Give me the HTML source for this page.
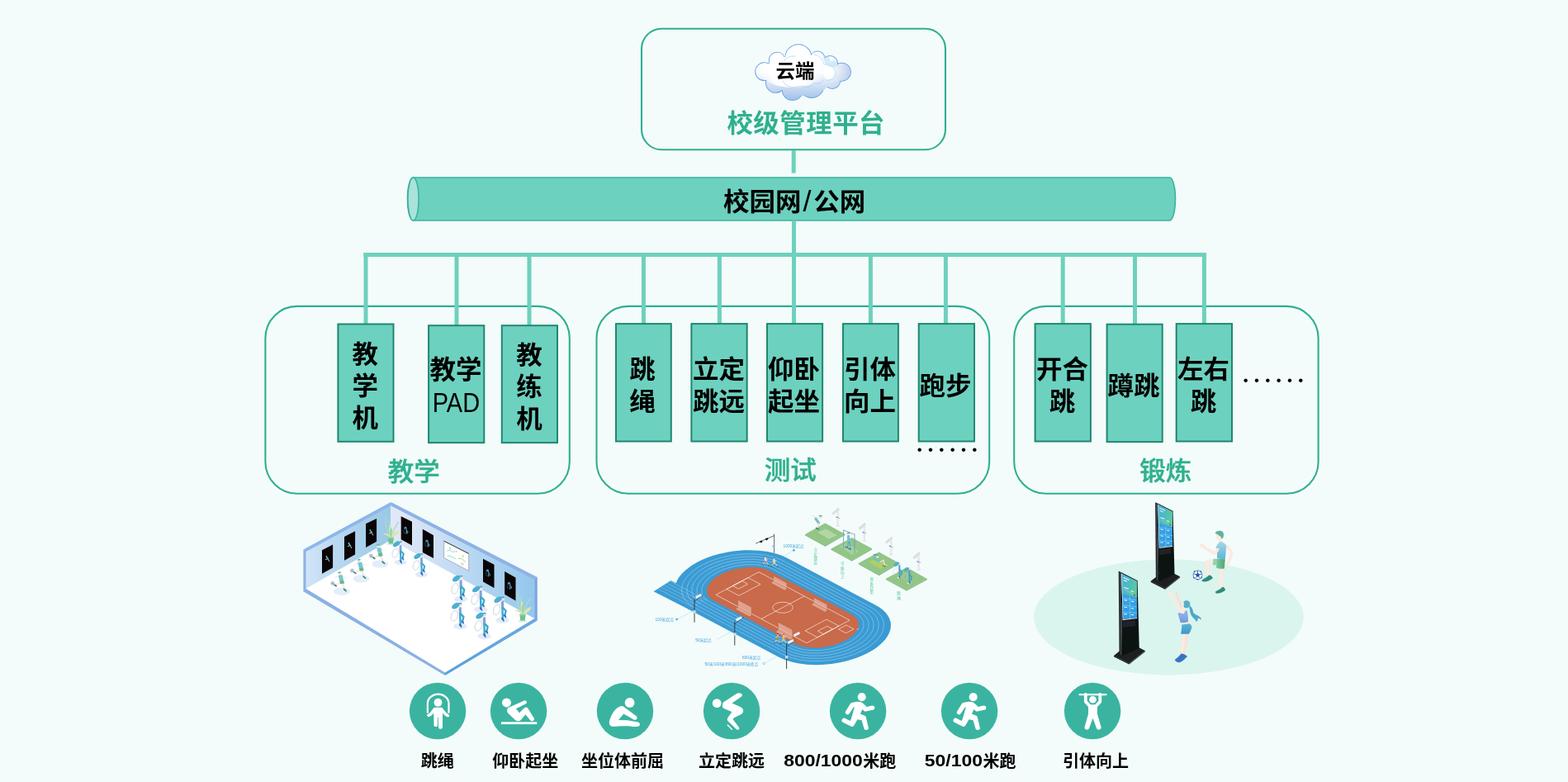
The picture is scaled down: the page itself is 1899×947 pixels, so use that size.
<!DOCTYPE html>
<html lang="zh-CN"><head><meta charset="utf-8"><title>校级管理平台</title>
<style>
html,body{margin:0;padding:0;background:#f3fcfa;}
body{width:1899px;height:947px;overflow:hidden;position:relative;font-family:"Liberation Sans","Noto Sans CJK SC",sans-serif;}
svg{position:absolute;left:0;top:0;display:block;will-change:transform}
svg text{font-family:"Liberation Sans","Noto Sans CJK SC",sans-serif;}
svg text.cjk{font-family:"Noto Sans CJK SC","Liberation Sans",sans-serif;}
</style></head><body>
<svg width="1899" height="947" viewBox="0 0 1899 947">
<rect x="777" y="34.7" width="368" height="146.6" rx="24.5" fill="none" stroke="#2fae92" stroke-width="2.1"/>
<path d="M500.5 215 H1416.5 A7 26 0 0 1 1416.5 267 H500.5 A7 26 0 0 1 500.5 215 Z" fill="#6dd1bf" stroke="#3bb39e" stroke-width="1.6"/>
<ellipse cx="500.5" cy="241" rx="6.6" ry="26" fill="#a9e3d9" stroke="#3bb39e" stroke-width="1.6"/>
<rect x="321.4" y="370.9" width="368.4" height="226.8" rx="38.5" fill="none" stroke="#2fae92" stroke-width="2.1"/>
<rect x="722.5" y="370.9" width="475.7" height="226.8" rx="38.5" fill="none" stroke="#2fae92" stroke-width="2.1"/>
<rect x="1228.2" y="370.9" width="368.4" height="226.8" rx="38.5" fill="none" stroke="#2fae92" stroke-width="2.1"/>
<g id="connectors">
<rect x="958.7" y="182" width="5" height="27.6" fill="#6fd0be"/>
<rect x="959.0" y="267" width="5" height="125.0" fill="#6fd0be"/>
<rect x="440.4" y="306" width="1020.2" height="5" fill="#6fd0be"/>
<rect x="440.5" y="306" width="5" height="86.0" fill="#6fd0be"/>
<rect x="550.5" y="306" width="5" height="88.0" fill="#6fd0be"/>
<rect x="638.5" y="306" width="5" height="88.0" fill="#6fd0be"/>
<rect x="777.0" y="306" width="5" height="86.0" fill="#6fd0be"/>
<rect x="868.9" y="306" width="5" height="86.0" fill="#6fd0be"/>
<rect x="1051.9" y="306" width="5" height="86.0" fill="#6fd0be"/>
<rect x="1142.9" y="306" width="5" height="86.0" fill="#6fd0be"/>
<rect x="1284.7" y="306" width="5" height="86.0" fill="#6fd0be"/>
<rect x="1372.0" y="306" width="5" height="86.5" fill="#6fd0be"/>
<rect x="1455.9" y="306" width="5" height="86.0" fill="#6fd0be"/>
</g>
<rect x="409.4" y="392.5" width="67.1" height="142.3" fill="#6dd1bf" stroke="#1f8870" stroke-width="2"/>
<rect x="519.1" y="394.2" width="67.2" height="141.9" fill="#6dd1bf" stroke="#1f8870" stroke-width="2"/>
<rect x="607.8" y="394.2" width="67.2" height="141.9" fill="#6dd1bf" stroke="#1f8870" stroke-width="2"/>
<rect x="746.0" y="392.1" width="66.8" height="142.4" fill="#6dd1bf" stroke="#1f8870" stroke-width="2"/>
<rect x="837.4" y="392.1" width="67.3" height="142.4" fill="#6dd1bf" stroke="#1f8870" stroke-width="2"/>
<rect x="929.0" y="392.1" width="67.1" height="142.4" fill="#6dd1bf" stroke="#1f8870" stroke-width="2"/>
<rect x="1021.0" y="392.1" width="66.9" height="142.4" fill="#6dd1bf" stroke="#1f8870" stroke-width="2"/>
<rect x="1112.7" y="392.1" width="67.3" height="142.4" fill="#6dd1bf" stroke="#1f8870" stroke-width="2"/>
<rect x="1253.6" y="392.1" width="67.3" height="142.4" fill="#6dd1bf" stroke="#1f8870" stroke-width="2"/>
<rect x="1340.6" y="392.7" width="67.1" height="142.4" fill="#6dd1bf" stroke="#1f8870" stroke-width="2"/>
<rect x="1424.7" y="392.1" width="67.3" height="142.4" fill="#6dd1bf" stroke="#1f8870" stroke-width="2"/>
<defs><linearGradient id="cg" gradientUnits="userSpaceOnUse" x1="0" y1="53" x2="0" y2="122"><stop offset="0" stop-color="#ffffff"/><stop offset="0.5" stop-color="#fbfdff"/><stop offset="0.72" stop-color="#d3e2f5"/><stop offset="1" stop-color="#9dbfe8"/></linearGradient><radialGradient id="cg2" gradientUnits="userSpaceOnUse" cx="958" cy="84" r="40"><stop offset="0" stop-color="#fff"/><stop offset="0.6" stop-color="#fff" stop-opacity="0.95"/><stop offset="1" stop-color="#fff" stop-opacity="0"/></radialGradient><linearGradient id="cg3" gradientUnits="userSpaceOnUse" x1="1006" y1="0" x2="1031" y2="0"><stop offset="0" stop-color="#c3d4ee" stop-opacity="0"/><stop offset="1" stop-color="#b4c9ea" stop-opacity="0.95"/></linearGradient><clipPath id="cc"><ellipse cx="972" cy="88" rx="47" ry="21"/><ellipse cx="972" cy="92" rx="36" ry="24"/><circle cx="925.6" cy="86.7" r="10.4"/><circle cx="941" cy="73" r="9.2"/><circle cx="966.9" cy="69.6" r="15.4"/><circle cx="990" cy="71.4" r="8.8"/><circle cx="1005.2" cy="76.8" r="8.8"/><circle cx="1019.4" cy="87.2" r="10.5"/><circle cx="1008" cy="97.6" r="9.3"/><circle cx="983.1" cy="103.8" r="14.2"/><circle cx="959.8" cy="109" r="12"/><circle cx="939.4" cy="100.4" r="11.4"/><circle cx="965" cy="88" r="18"/><circle cx="990" cy="88" r="16"/></clipPath></defs>
<g id="cloud">
<circle cx="925.6" cy="86.7" r="10.4" fill="#ffffff" stroke="#6fa4e2" stroke-width="2"/>
<circle cx="941" cy="73" r="9.2" fill="#ffffff" stroke="#6fa4e2" stroke-width="2"/>
<circle cx="966.9" cy="69.6" r="15.4" fill="#ffffff" stroke="#6fa4e2" stroke-width="2"/>
<circle cx="990" cy="71.4" r="8.8" fill="#ffffff" stroke="#6fa4e2" stroke-width="2"/>
<circle cx="1005.2" cy="76.8" r="8.8" fill="#ffffff" stroke="#6fa4e2" stroke-width="2"/>
<circle cx="1019.4" cy="87.2" r="10.5" fill="#ffffff" stroke="#6fa4e2" stroke-width="2"/>
<circle cx="1008" cy="97.6" r="9.3" fill="#ffffff" stroke="#6fa4e2" stroke-width="2"/>
<circle cx="983.1" cy="103.8" r="14.2" fill="#ffffff" stroke="#6fa4e2" stroke-width="2"/>
<circle cx="959.8" cy="109" r="12" fill="#ffffff" stroke="#6fa4e2" stroke-width="2"/>
<circle cx="939.4" cy="100.4" r="11.4" fill="#ffffff" stroke="#6fa4e2" stroke-width="2"/>
<g clip-path="url(#cc)">
<rect x="910" y="50" width="125" height="76" fill="url(#cg)"/>
<ellipse cx="1014" cy="88" rx="20" ry="22" fill="url(#cg3)"/>
<ellipse cx="960" cy="82" rx="42" ry="24" fill="url(#cg2)"/>
<ellipse cx="1004" cy="88" rx="7" ry="8" fill="#ffffff" opacity="0.9"/>
<path d="M996 64 Q1004 66 1006 74 Q1014 72 1016 80 L1008 82 Q1000 80 998 74 Z" fill="#c5e4f4" opacity="0.7"/>
</g>
<path d="M949 75 Q953 67 964 68" fill="none" stroke="#a8dcf0" stroke-width="0.8"/>
<path d="M948 98 Q953 109 972 104 Q980 108 986 100 Q994 104 998 96" fill="none" stroke="#a9c9ec" stroke-width="0.8" opacity="0.8"/>
<path d="M986 66 Q996 68 998 78 Q1010 76 1012 88 Q1012 96 1000 98" fill="none" stroke="#b9dcf2" stroke-width="1" opacity="0.8"/>
</g>
<text transform="translate(963 94.2) scale(1.0 0.96)" font-size="23.5" font-weight="700" fill="#000" text-anchor="middle" >云端</text>
<text transform="translate(976.2 159.6) scale(1.0 0.97)" font-size="31.5" font-weight="700" fill="#2fb08f" text-anchor="middle" letter-spacing="0.45">校级管理平台</text>
<text transform="scale(1 0.96)" font-size="31.5" font-weight="700" fill="#000"><tspan x="876" y="265.83">校园网</tspan><tspan x="972.4" y="267.08" font-size="36" font-weight="400">/</tspan><tspan x="985.2" y="265.83">公网</tspan></text>
<text transform="scale(1 0.96)" font-size="31.5" font-weight="700" fill="#000" text-anchor="middle"><tspan x="442.3" y="458.13">教</tspan><tspan x="442.3" y="498.23">学</tspan><tspan x="442.3" y="538.33">机</tspan></text>
<text font-size="31.5" font-weight="700" fill="#000"><tspan x="552" y="459.2" text-anchor="middle">教学</tspan><tspan x="523.7" y="499.2" font-size="33" font-weight="400" textLength="57.4" lengthAdjust="spacingAndGlyphs">PAD</tspan></text>
<text transform="scale(1 0.96)" font-size="31.5" font-weight="700" fill="#000" text-anchor="middle"><tspan x="641" y="459.17">教</tspan><tspan x="641" y="499.27">练</tspan><tspan x="641" y="539.38">机</tspan></text>
<text transform="scale(1 0.96)" font-size="31.5" font-weight="700" fill="#000" text-anchor="middle"><tspan x="778" y="477.50">跳</tspan><tspan x="778" y="517.60">绳</tspan></text>
<text transform="scale(1 0.96)" font-size="31.5" font-weight="700" fill="#000" text-anchor="middle"><tspan x="870.5" y="477.50">立定</tspan><tspan x="870.5" y="517.60">跳远</tspan></text>
<text transform="scale(1 0.96)" font-size="31.5" font-weight="700" fill="#000" text-anchor="middle"><tspan x="961.5" y="477.50">仰卧</tspan><tspan x="961.5" y="517.60">起坐</tspan></text>
<text transform="scale(1 0.96)" font-size="31.5" font-weight="700" fill="#000" text-anchor="middle"><tspan x="1053.5" y="477.50">引体</tspan><tspan x="1053.5" y="517.60">向上</tspan></text>
<text transform="translate(1145 478) scale(1.0 0.96)" font-size="31.5" font-weight="700" fill="#000" text-anchor="middle" >跑步</text>
<text transform="scale(1 0.96)" font-size="31.5" font-weight="700" fill="#000" text-anchor="middle"><tspan x="1286.5" y="477.50">开合</tspan><tspan x="1286.5" y="517.60">跳</tspan></text>
<text transform="translate(1373 478) scale(1.0 0.96)" font-size="31.5" font-weight="700" fill="#000" text-anchor="middle" >蹲跳</text>
<text transform="scale(1 0.96)" font-size="31.5" font-weight="700" fill="#000" text-anchor="middle"><tspan x="1457.5" y="477.50">左右</tspan><tspan x="1457.5" y="517.60">跳</tspan></text>
<text transform="translate(501.3 582.2) scale(1.0 0.96)" font-size="31.5" font-weight="500" fill="#2fb08f" text-anchor="middle" stroke="#2fb08f" stroke-width="0.45">教学</text>
<text transform="translate(957.3 579.6) scale(1.0 0.96)" font-size="31.5" font-weight="500" fill="#2fb08f" text-anchor="middle" stroke="#2fb08f" stroke-width="0.45">测试</text>
<text transform="translate(1411.8 581.3) scale(1.0 0.96)" font-size="31.5" font-weight="500" fill="#2fb08f" text-anchor="middle" stroke="#2fb08f" stroke-width="0.45">锻炼</text>
<text class="cjk" x="1501.9" y="475.7" font-size="40" font-weight="300" fill="#000">……</text>
<text class="cjk" x="1106.9" y="559.8" font-size="40" font-weight="300" fill="#000">……</text>
<defs><linearGradient id="wl" gradientUnits="userSpaceOnUse" x1="370" y1="0" x2="474" y2="0"><stop offset="0" stop-color="#d2e4f8"/><stop offset="0.35" stop-color="#b9d8f1"/><stop offset="1" stop-color="#98c8e6"/></linearGradient><linearGradient id="wr" gradientUnits="userSpaceOnUse" x1="473" y1="0" x2="648" y2="0"><stop offset="0" stop-color="#e4e8f7"/><stop offset="0.3" stop-color="#cfe0f5"/><stop offset="0.65" stop-color="#b0d4f1"/><stop offset="1" stop-color="#93c7ec"/></linearGradient><linearGradient id="fr" gradientUnits="userSpaceOnUse" x1="539" y1="0" x2="651" y2="0"><stop offset="0" stop-color="#5b9fd8"/><stop offset="1" stop-color="#6fa8e0"/></linearGradient></defs>
<g id="room">
<polygon points="370.5,712.8 473.4,654 647.5,749 539,814.6" fill="#ffffff"/>
<polygon points="370.5,667.4 473.4,611.6 473.4,654 370.5,712.8" fill="url(#wl)"/>
<polygon points="473.4,611.6 647.5,701.4 647.5,749 473.4,654" fill="url(#wr)"/>
<polygon points="367.4,665.6 473.4,608 473.4,612.4 370.6,668" fill="#8eb6ea"/>
<polygon points="473.4,608 650.8,699 647.4,702 473.4,612.4" fill="#8fb2e6"/>
<polygon points="367.4,665.6 370.6,667.6 370.6,713.4 367.4,716.2" fill="#8db2e6"/>
<polygon points="647.3,701.6 650.8,699 650.8,751.6 647.3,749.2" fill="#7ba7e0"/>
<polygon points="367.4,716.2 370.6,712.9 539,814.4 539,818" fill="#8ab0e4"/>
<polygon points="539,818 539,814.4 647.4,749 650.8,751.6" fill="url(#fr)"/>
<polygon points="390,666.2 403.1,659.6 403.1,687.5 390,694.8" fill="#0b0506"/><path d="M395.6 674.4 l1.6 2.4 l1.6 3 M396.9 676.6 l-2.4 1" stroke="#cfe9e6" stroke-width="0.9" fill="none" stroke-linecap="round"/><circle cx="395.4" cy="673.8" r="0.9" fill="#5fc0b0"/><path d="M395.9 675.0 l1.4 2" stroke="#57bfc4" stroke-width="1.5" stroke-linecap="round"/>
<polygon points="417,650 430.1,643.3 430.1,671.6 417,678.8" fill="#0b0506"/><path d="M422.6 658.3 l1.6 2.4 l1.6 3 M423.9 660.5 l-2.4 1" stroke="#cfe9e6" stroke-width="0.9" fill="none" stroke-linecap="round"/><circle cx="422.4" cy="657.7" r="0.9" fill="#5fc0b0"/><path d="M422.9 658.9 l1.4 2" stroke="#57bfc4" stroke-width="1.5" stroke-linecap="round"/>
<polygon points="443.1,634.2 456.1,627.9 456.1,655.8 443.1,663" fill="#0b0506"/><path d="M448.6 642.6 l1.6 2.4 l1.6 3 M450.0 644.8 l-2.4 1" stroke="#cfe9e6" stroke-width="0.9" fill="none" stroke-linecap="round"/><circle cx="448.4" cy="642.0" r="0.9" fill="#5fc0b0"/><path d="M449.0 643.2 l1.4 2" stroke="#57bfc4" stroke-width="1.5" stroke-linecap="round"/>
<g transform="translate(473.4 658.4) scale(1.35)">
<ellipse cx="0" cy="0.4" rx="4" ry="1" fill="#d5ecdf" opacity="0.8"/>
<path d="M-1 -6 C-5 -14 -5 -20 -4.4 -24 M0 -6 C3 -14 5 -17 6.6 -19 M0.4 -6 C0 -14 -1.4 -18 -2 -20" stroke="#a5dbd0" stroke-width="1.5" fill="none" stroke-linecap="round" opacity="0.7"/>
<path d="M0 -5 C-4 -8 -6 -8.6 -7 -8.4 C-5.6 -10.6 -2 -9 0 -6 C-2 -11 -2 -14 -1 -17 C1.4 -14 1.6 -10 0.6 -6 C2.6 -10 5 -11.6 7.4 -11.6 C6.6 -8 3 -6.6 0.6 -5 Z" fill="#dbe9a0"/>
<path d="M0 -5.6 C-1 -10 -0.6 -13 0.2 -15 C1.4 -12 1 -9 0.4 -5.6 Z" fill="#8fd0a6"/>
<path d="M-2.6 -5.6 L2.6 -5.6 L2 0 L-2 0 Z" fill="#71c08e"/>
<path d="M-2.6 -5.6 L2.6 -5.6 L2.5 -4.4 L-2.5 -4.4 Z" fill="#8ed3a6"/>
</g>
<polygon points="485.7,625.3 499,631.7 499,660.6 485.7,653.2" fill="#0b0506"/><path d="M492.0 639.3 l0.6 3.4 l-0.4 3.6 M492.6 642.7 l1.6 1.2 l-0.6 1.6" stroke="#3fa9cf" stroke-width="1" fill="none" stroke-linecap="round"/><ellipse cx="490.8" cy="639.1" rx="1.7" ry="1" transform="rotate(-35 490.8 639.1)" fill="#3fa9cf"/><ellipse cx="490.4" cy="643.3" rx="1.6" ry="2.6" fill="none" stroke="#8a93a8" stroke-width="0.3"/>
<polygon points="511.8,640.8 525,648.2 525,676 511.8,669.1" fill="#0b0506"/><path d="M518.0 655.1 l0.6 3.4 l-0.4 3.6 M518.6 658.5 l1.6 1.2 l-0.6 1.6" stroke="#3fa9cf" stroke-width="1" fill="none" stroke-linecap="round"/><ellipse cx="516.8" cy="654.9" rx="1.7" ry="1" transform="rotate(-35 516.8 654.9)" fill="#3fa9cf"/><ellipse cx="516.4" cy="659.1" rx="1.6" ry="2.6" fill="none" stroke="#8a93a8" stroke-width="0.3"/>
<polygon points="537.7,655.2 567.7,670.4 567.7,691.3 537.7,675.5" fill="#fdfefe" stroke="#6f7a86" stroke-width="0.5"/>
<path d="M537.7 655.2 L567.7 670.4" stroke="#1c1c22" stroke-width="0.8"/>
<path d="M541.5 667.4 l3.4 -1.4 l3 2.4 l3 -0.6 M541.8 673 l4 0.6 l3.4 1.8 l3 1.6" stroke="#7fd0c8" stroke-width="0.8" fill="none"/>
<path d="M555 676.6 l3 -0.4 l3 1.8 l3 2.6 M544 663.6 l2 1" stroke="#7ecfa0" stroke-width="0.8" fill="none"/>
<circle cx="545" cy="663.6" r="1.1" fill="none" stroke="#8ad3b2" stroke-width="0.5"/><circle cx="552.6" cy="668" r="1" fill="#f3a9b4" opacity="0.8"/><circle cx="560.8" cy="673.4" r="1.2" fill="#f6c96a" opacity="0.9"/><circle cx="560" cy="683" r="1.3" fill="none" stroke="#f0a080" stroke-width="0.6"/>
<polygon points="585,676.8 598.5,683.7 598.5,712 585,704.6" fill="#0b0506"/><path d="M591.4 690.9 l0.6 3.4 l-0.4 3.6 M592.0 694.3 l1.6 1.2 l-0.6 1.6" stroke="#3fa9cf" stroke-width="1" fill="none" stroke-linecap="round"/><ellipse cx="590.1" cy="690.7" rx="1.7" ry="1" transform="rotate(-35 590.1 690.7)" fill="#3fa9cf"/><ellipse cx="589.8" cy="694.9" rx="1.6" ry="2.6" fill="none" stroke="#8a93a8" stroke-width="0.3"/>
<polygon points="611.2,692 624.5,699.6 624.5,727.5 611.2,719.8" fill="#0b0506"/><path d="M617.5 706.3 l0.6 3.4 l-0.4 3.6 M618.1 709.7 l1.6 1.2 l-0.6 1.6" stroke="#3fa9cf" stroke-width="1" fill="none" stroke-linecap="round"/><ellipse cx="616.2" cy="706.1" rx="1.7" ry="1" transform="rotate(-35 616.2 706.1)" fill="#3fa9cf"/><ellipse cx="615.9" cy="710.3" rx="1.6" ry="2.6" fill="none" stroke="#8a93a8" stroke-width="0.3"/>
<g transform="translate(633 751.6) scale(1.4)">
<ellipse cx="0" cy="0.4" rx="4" ry="1" fill="#d5ecdf" opacity="0.8"/>
<path d="M-1 -6 C-5 -14 -5 -20 -4.4 -24 M0 -6 C3 -14 5 -17 6.6 -19 M0.4 -6 C0 -14 -1.4 -18 -2 -20" stroke="#a5dbd0" stroke-width="1.5" fill="none" stroke-linecap="round" opacity="0.7"/>
<path d="M0 -5 C-4 -8 -6 -8.6 -7 -8.4 C-5.6 -10.6 -2 -9 0 -6 C-2 -11 -2 -14 -1 -17 C1.4 -14 1.6 -10 0.6 -6 C2.6 -10 5 -11.6 7.4 -11.6 C6.6 -8 3 -6.6 0.6 -5 Z" fill="#dbe9a0"/>
<path d="M0 -5.6 C-1 -10 -0.6 -13 0.2 -15 C1.4 -12 1 -9 0.4 -5.6 Z" fill="#8fd0a6"/>
<path d="M-2.6 -5.6 L2.6 -5.6 L2 0 L-2 0 Z" fill="#71c08e"/>
<path d="M-2.6 -5.6 L2.6 -5.6 L2.5 -4.4 L-2.5 -4.4 Z" fill="#8ed3a6"/>
</g>
<g transform="translate(412.8 716.2) scale(1.04)">
<ellipse cx="1" cy="0" rx="9.5" ry="4.6" fill="#e4eefa"/>
<path d="M1.2 -10 L4.6 -2.4" stroke="#f7dfd6" stroke-width="1.5" stroke-linecap="round"/>
<path d="M0.2 -10.6 L-5.8 -7.4" stroke="#f7dfd6" stroke-width="1.5" stroke-linecap="round"/>
<path d="M3.6 -2.6 L6 -0.6 M-7.4 -7.6 L-5.4 -6.2" stroke="#2f8f70" stroke-width="1.7" stroke-linecap="round"/>
<path d="M-1.6 -12.6 L3 -13.4 L4.2 -9.4 L-0.6 -8.6 Z" fill="#63b88f"/>
<path d="M-3.2 -18.6 L1.8 -19.4 L3.2 -13 L-1.4 -12.4 Z" fill="#74c6d6"/>
<path d="M1.6 -18.6 L5.6 -15.4 M-2.8 -18 L-6.4 -16.6" stroke="#f7dfd6" stroke-width="0.9" stroke-linecap="round"/>
<circle cx="-1.6" cy="-20.8" r="1.7" fill="#f9e1da"/>
<path d="M-3.8 -21.4 Q-2.4 -24 0.6 -22.4 L-0.6 -21.4 Z" fill="#4fb79c"/>
<circle cx="-9.6" cy="-9.4" r="1.7" fill="#fff" stroke="#3b4a78" stroke-width="0.5"/>
<circle cx="-9.6" cy="-9.4" r="0.6" fill="#3b4a78"/>
</g>
<g transform="translate(436.4 700.8) scale(1.04)">
<ellipse cx="1" cy="0" rx="9.5" ry="4.6" fill="#e4eefa"/>
<path d="M1.2 -10 L4.6 -2.4" stroke="#f7dfd6" stroke-width="1.5" stroke-linecap="round"/>
<path d="M0.2 -10.6 L-5.8 -7.4" stroke="#f7dfd6" stroke-width="1.5" stroke-linecap="round"/>
<path d="M3.6 -2.6 L6 -0.6 M-7.4 -7.6 L-5.4 -6.2" stroke="#2f8f70" stroke-width="1.7" stroke-linecap="round"/>
<path d="M-1.6 -12.6 L3 -13.4 L4.2 -9.4 L-0.6 -8.6 Z" fill="#63b88f"/>
<path d="M-3.2 -18.6 L1.8 -19.4 L3.2 -13 L-1.4 -12.4 Z" fill="#74c6d6"/>
<path d="M1.6 -18.6 L5.6 -15.4 M-2.8 -18 L-6.4 -16.6" stroke="#f7dfd6" stroke-width="0.9" stroke-linecap="round"/>
<circle cx="-1.6" cy="-20.8" r="1.7" fill="#f9e1da"/>
<path d="M-3.8 -21.4 Q-2.4 -24 0.6 -22.4 L-0.6 -21.4 Z" fill="#4fb79c"/>
<circle cx="-9.6" cy="-9.4" r="1.7" fill="#fff" stroke="#3b4a78" stroke-width="0.5"/>
<circle cx="-9.6" cy="-9.4" r="0.6" fill="#3b4a78"/>
</g>
<g transform="translate(459.4 683) scale(1.04)">
<ellipse cx="1" cy="0" rx="9.5" ry="4.6" fill="#e4eefa"/>
<path d="M1.2 -10 L4.6 -2.4" stroke="#f7dfd6" stroke-width="1.5" stroke-linecap="round"/>
<path d="M0.2 -10.6 L-5.8 -7.4" stroke="#f7dfd6" stroke-width="1.5" stroke-linecap="round"/>
<path d="M3.6 -2.6 L6 -0.6 M-7.4 -7.6 L-5.4 -6.2" stroke="#2f8f70" stroke-width="1.7" stroke-linecap="round"/>
<path d="M-1.6 -12.6 L3 -13.4 L4.2 -9.4 L-0.6 -8.6 Z" fill="#63b88f"/>
<path d="M-3.2 -18.6 L1.8 -19.4 L3.2 -13 L-1.4 -12.4 Z" fill="#74c6d6"/>
<path d="M1.6 -18.6 L5.6 -15.4 M-2.8 -18 L-6.4 -16.6" stroke="#f7dfd6" stroke-width="0.9" stroke-linecap="round"/>
<circle cx="-1.6" cy="-20.8" r="1.7" fill="#f9e1da"/>
<path d="M-3.8 -21.4 Q-2.4 -24 0.6 -22.4 L-0.6 -21.4 Z" fill="#4fb79c"/>
<circle cx="-9.6" cy="-9.4" r="1.7" fill="#fff" stroke="#3b4a78" stroke-width="0.5"/>
<circle cx="-9.6" cy="-9.4" r="0.6" fill="#3b4a78"/>
</g>
<g transform="translate(484.6 680.6) scale(1.04)">
<ellipse cx="0.5" cy="0.3" rx="7" ry="3.3" fill="#dde9f8" opacity="0.9"/>
<ellipse cx="-5.6" cy="-10.5" rx="3.4" ry="5.6" transform="rotate(18 -5.6 -10.5)" fill="none" stroke="#aab4c8" stroke-width="0.45"/>
<path d="M0.3 -13 L0.8 -1.2" stroke="#3ea9cb" stroke-width="2.1" stroke-linecap="round" fill="none"/>
<path d="M0.6 -13 L4 -9.4 L2.9 -4.6" stroke="#3ea9cb" stroke-width="2" stroke-linecap="round" stroke-linejoin="round" fill="none"/>
<path d="M0 -1.4 L1.6 0.8 M2.4 -4.8 L3.8 -3" stroke="#2f63b6" stroke-width="1.5" stroke-linecap="round"/>
<path d="M-0.9 -19.6 L1.7 -19.6 L1.9 -13.2 L-0.9 -13.2 Z" fill="#7ea2e2"/>
<path d="M-0.6 -19 L-3.6 -13.5" stroke="#f7ddd6" stroke-width="0.8" stroke-linecap="round"/>
<circle cx="0.9" cy="-21.9" r="1.7" fill="#f9e1da"/>
<path d="M-1.2 -23.4 Q0.8 -25.4 2.6 -23.2 L1.2 -22.6 Z" fill="#3fa8cc"/>
<ellipse cx="-4.2" cy="-21" rx="4.6" ry="2.6" transform="rotate(-32 -4.2 -21)" fill="#4bb0d2"/>
</g>
<g transform="translate(510 695.4) scale(1.04)">
<ellipse cx="0.5" cy="0.3" rx="7" ry="3.3" fill="#dde9f8" opacity="0.9"/>
<ellipse cx="-5.6" cy="-10.5" rx="3.4" ry="5.6" transform="rotate(18 -5.6 -10.5)" fill="none" stroke="#aab4c8" stroke-width="0.45"/>
<path d="M0.3 -13 L0.8 -1.2" stroke="#3ea9cb" stroke-width="2.1" stroke-linecap="round" fill="none"/>
<path d="M0.6 -13 L4 -9.4 L2.9 -4.6" stroke="#3ea9cb" stroke-width="2" stroke-linecap="round" stroke-linejoin="round" fill="none"/>
<path d="M0 -1.4 L1.6 0.8 M2.4 -4.8 L3.8 -3" stroke="#2f63b6" stroke-width="1.5" stroke-linecap="round"/>
<path d="M-0.9 -19.6 L1.7 -19.6 L1.9 -13.2 L-0.9 -13.2 Z" fill="#7ea2e2"/>
<path d="M-0.6 -19 L-3.6 -13.5" stroke="#f7ddd6" stroke-width="0.8" stroke-linecap="round"/>
<circle cx="0.9" cy="-21.9" r="1.7" fill="#f9e1da"/>
<path d="M-1.2 -23.4 Q0.8 -25.4 2.6 -23.2 L1.2 -22.6 Z" fill="#3fa8cc"/>
<ellipse cx="-4.2" cy="-21" rx="4.6" ry="2.6" transform="rotate(-32 -4.2 -21)" fill="#4bb0d2"/>
</g>
<g transform="translate(557.6 725) scale(1.16)">
<ellipse cx="0.5" cy="0.3" rx="7" ry="3.3" fill="#dde9f8" opacity="0.9"/>
<ellipse cx="-5.6" cy="-10.5" rx="3.4" ry="5.6" transform="rotate(18 -5.6 -10.5)" fill="none" stroke="#aab4c8" stroke-width="0.45"/>
<path d="M0.3 -13 L0.8 -1.2" stroke="#3ea9cb" stroke-width="2.1" stroke-linecap="round" fill="none"/>
<path d="M0.6 -13 L4 -9.4 L2.9 -4.6" stroke="#3ea9cb" stroke-width="2" stroke-linecap="round" stroke-linejoin="round" fill="none"/>
<path d="M0 -1.4 L1.6 0.8 M2.4 -4.8 L3.8 -3" stroke="#2f63b6" stroke-width="1.5" stroke-linecap="round"/>
<path d="M-0.9 -19.6 L1.7 -19.6 L1.9 -13.2 L-0.9 -13.2 Z" fill="#7ea2e2"/>
<path d="M-0.6 -19 L-3.6 -13.5" stroke="#f7ddd6" stroke-width="0.8" stroke-linecap="round"/>
<circle cx="0.9" cy="-21.9" r="1.7" fill="#f9e1da"/>
<path d="M-1.2 -23.4 Q0.8 -25.4 2.6 -23.2 L1.2 -22.6 Z" fill="#3fa8cc"/>
<ellipse cx="-4.2" cy="-21" rx="4.6" ry="2.6" transform="rotate(-32 -4.2 -21)" fill="#4bb0d2"/>
</g>
<g transform="translate(581.6 737.8) scale(1.16)">
<ellipse cx="0.5" cy="0.3" rx="7" ry="3.3" fill="#dde9f8" opacity="0.9"/>
<ellipse cx="-5.6" cy="-10.5" rx="3.4" ry="5.6" transform="rotate(18 -5.6 -10.5)" fill="none" stroke="#aab4c8" stroke-width="0.45"/>
<path d="M0.3 -13 L0.8 -1.2" stroke="#3ea9cb" stroke-width="2.1" stroke-linecap="round" fill="none"/>
<path d="M0.6 -13 L4 -9.4 L2.9 -4.6" stroke="#3ea9cb" stroke-width="2" stroke-linecap="round" stroke-linejoin="round" fill="none"/>
<path d="M0 -1.4 L1.6 0.8 M2.4 -4.8 L3.8 -3" stroke="#2f63b6" stroke-width="1.5" stroke-linecap="round"/>
<path d="M-0.9 -19.6 L1.7 -19.6 L1.9 -13.2 L-0.9 -13.2 Z" fill="#7ea2e2"/>
<path d="M-0.6 -19 L-3.6 -13.5" stroke="#f7ddd6" stroke-width="0.8" stroke-linecap="round"/>
<circle cx="0.9" cy="-21.9" r="1.7" fill="#f9e1da"/>
<path d="M-1.2 -23.4 Q0.8 -25.4 2.6 -23.2 L1.2 -22.6 Z" fill="#3fa8cc"/>
<ellipse cx="-4.2" cy="-21" rx="4.6" ry="2.6" transform="rotate(-32 -4.2 -21)" fill="#4bb0d2"/>
</g>
<g transform="translate(608 750.6) scale(1.16)">
<ellipse cx="0.5" cy="0.3" rx="7" ry="3.3" fill="#dde9f8" opacity="0.9"/>
<ellipse cx="-5.6" cy="-10.5" rx="3.4" ry="5.6" transform="rotate(18 -5.6 -10.5)" fill="none" stroke="#aab4c8" stroke-width="0.45"/>
<path d="M0.3 -13 L0.8 -1.2" stroke="#3ea9cb" stroke-width="2.1" stroke-linecap="round" fill="none"/>
<path d="M0.6 -13 L4 -9.4 L2.9 -4.6" stroke="#3ea9cb" stroke-width="2" stroke-linecap="round" stroke-linejoin="round" fill="none"/>
<path d="M0 -1.4 L1.6 0.8 M2.4 -4.8 L3.8 -3" stroke="#2f63b6" stroke-width="1.5" stroke-linecap="round"/>
<path d="M-0.9 -19.6 L1.7 -19.6 L1.9 -13.2 L-0.9 -13.2 Z" fill="#7ea2e2"/>
<path d="M-0.6 -19 L-3.6 -13.5" stroke="#f7ddd6" stroke-width="0.8" stroke-linecap="round"/>
<circle cx="0.9" cy="-21.9" r="1.7" fill="#f9e1da"/>
<path d="M-1.2 -23.4 Q0.8 -25.4 2.6 -23.2 L1.2 -22.6 Z" fill="#3fa8cc"/>
<ellipse cx="-4.2" cy="-21" rx="4.6" ry="2.6" transform="rotate(-32 -4.2 -21)" fill="#4bb0d2"/>
</g>
<g transform="translate(556.8 758) scale(1.16)">
<ellipse cx="0.5" cy="0.3" rx="7" ry="3.3" fill="#dde9f8" opacity="0.9"/>
<ellipse cx="-5.6" cy="-10.5" rx="3.4" ry="5.6" transform="rotate(18 -5.6 -10.5)" fill="none" stroke="#aab4c8" stroke-width="0.45"/>
<path d="M0.3 -13 L0.8 -1.2" stroke="#3ea9cb" stroke-width="2.1" stroke-linecap="round" fill="none"/>
<path d="M0.6 -13 L4 -9.4 L2.9 -4.6" stroke="#3ea9cb" stroke-width="2" stroke-linecap="round" stroke-linejoin="round" fill="none"/>
<path d="M0 -1.4 L1.6 0.8 M2.4 -4.8 L3.8 -3" stroke="#2f63b6" stroke-width="1.5" stroke-linecap="round"/>
<path d="M-0.9 -19.6 L1.7 -19.6 L1.9 -13.2 L-0.9 -13.2 Z" fill="#7ea2e2"/>
<path d="M-0.6 -19 L-3.6 -13.5" stroke="#f7ddd6" stroke-width="0.8" stroke-linecap="round"/>
<circle cx="0.9" cy="-21.9" r="1.7" fill="#f9e1da"/>
<path d="M-1.2 -23.4 Q0.8 -25.4 2.6 -23.2 L1.2 -22.6 Z" fill="#3fa8cc"/>
<ellipse cx="-4.2" cy="-21" rx="4.6" ry="2.6" transform="rotate(-32 -4.2 -21)" fill="#4bb0d2"/>
</g>
<g transform="translate(586 770) scale(1.16)">
<ellipse cx="0.5" cy="0.3" rx="7" ry="3.3" fill="#dde9f8" opacity="0.9"/>
<ellipse cx="-5.6" cy="-10.5" rx="3.4" ry="5.6" transform="rotate(18 -5.6 -10.5)" fill="none" stroke="#aab4c8" stroke-width="0.45"/>
<path d="M0.3 -13 L0.8 -1.2" stroke="#3ea9cb" stroke-width="2.1" stroke-linecap="round" fill="none"/>
<path d="M0.6 -13 L4 -9.4 L2.9 -4.6" stroke="#3ea9cb" stroke-width="2" stroke-linecap="round" stroke-linejoin="round" fill="none"/>
<path d="M0 -1.4 L1.6 0.8 M2.4 -4.8 L3.8 -3" stroke="#2f63b6" stroke-width="1.5" stroke-linecap="round"/>
<path d="M-0.9 -19.6 L1.7 -19.6 L1.9 -13.2 L-0.9 -13.2 Z" fill="#7ea2e2"/>
<path d="M-0.6 -19 L-3.6 -13.5" stroke="#f7ddd6" stroke-width="0.8" stroke-linecap="round"/>
<circle cx="0.9" cy="-21.9" r="1.7" fill="#f9e1da"/>
<path d="M-1.2 -23.4 Q0.8 -25.4 2.6 -23.2 L1.2 -22.6 Z" fill="#3fa8cc"/>
<ellipse cx="-4.2" cy="-21" rx="4.6" ry="2.6" transform="rotate(-32 -4.2 -21)" fill="#4bb0d2"/>
</g>
</g>
<g id="stadium">
<polygon points="791.6,716.3 812.4,702.9 859.6,727.6 837.2,739.5" fill="#3a9bd4"/>
<g transform="matrix(1 0.531 1 -0.531 948.0 735.7)">
<path d="M-53.8 -59.0 H53.8 A49.6 59.0 0 0 1 53.8 59.0 H-53.8 A49.6 59.0 0 0 1 -53.8 -59.0 Z" fill="#3a9bd4"/>
<path d="M-49.75 -37.90625 H49.75 A30.109375 37.90625 0 0 1 49.75 37.90625 H-49.75 A30.109375 37.90625 0 0 1 -49.75 -37.90625 Z" fill="none" stroke="#ffffff" stroke-opacity="0.55" stroke-width="0.45"/>
<path d="M-50.5 -41.8125 H50.5 A33.71875 41.8125 0 0 1 50.5 41.8125 H-50.5 A33.71875 41.8125 0 0 1 -50.5 -41.8125 Z" fill="none" stroke="#ffffff" stroke-opacity="0.55" stroke-width="0.45"/>
<path d="M-51.25 -45.71875 H51.25 A37.328125 45.71875 0 0 1 51.25 45.71875 H-51.25 A37.328125 45.71875 0 0 1 -51.25 -45.71875 Z" fill="none" stroke="#ffffff" stroke-opacity="0.55" stroke-width="0.45"/>
<path d="M-52.0 -49.625 H52.0 A40.9375 49.625 0 0 1 52.0 49.625 H-52.0 A40.9375 49.625 0 0 1 -52.0 -49.625 Z" fill="none" stroke="#ffffff" stroke-opacity="0.55" stroke-width="0.45"/>
<path d="M-52.75 -53.53125 H52.75 A44.546875 53.53125 0 0 1 52.75 53.53125 H-52.75 A44.546875 53.53125 0 0 1 -52.75 -53.53125 Z" fill="none" stroke="#ffffff" stroke-opacity="0.55" stroke-width="0.45"/>
<path d="M-49.0 -34.0 H49.0 A26.5 34.0 0 0 1 49.0 34.0 H-49.0 A26.5 34.0 0 0 1 -49.0 -34.0 Z" fill="#c96a4a"/>
<rect x="-55" y="-26" width="110" height="52" fill="none" stroke="#ffffff" stroke-opacity="0.9" stroke-width="0.5"/>
<path d="M0 -26 V26" fill="none" stroke="#ffffff" stroke-opacity="0.9" stroke-width="0.5"/><circle cx="0" cy="0" r="8.7" fill="none" stroke="#ffffff" stroke-opacity="0.9" stroke-width="0.5"/>
<rect x="-55" y="-13" width="15" height="26" fill="none" stroke="#ffffff" stroke-opacity="0.9" stroke-width="0.5"/><rect x="-55" y="-5.6" width="7" height="11.2" fill="none" stroke="#ffffff" stroke-opacity="0.9" stroke-width="0.5"/>
<rect x="40" y="-13" width="15" height="26" fill="none" stroke="#ffffff" stroke-opacity="0.9" stroke-width="0.5"/><rect x="48" y="-5.6" width="7" height="11.2" fill="none" stroke="#ffffff" stroke-opacity="0.9" stroke-width="0.5"/>
<rect x="58.5" y="9" width="9" height="9.5" fill="none" stroke="#ffffff" stroke-opacity="0.9" stroke-width="0.5" stroke-opacity="0.7"/><path d="M70 19.5 V22" fill="none" stroke="#ffffff" stroke-opacity="0.9" stroke-width="0.5" stroke-opacity="0.7"/>
</g>
<path d="M811.2 703.7 L856.3 727.3" stroke="#ffffff" stroke-opacity="0.55" stroke-width="0.45"/>
<path d="M807.6 706.0 L852.4 729.3" stroke="#ffffff" stroke-opacity="0.55" stroke-width="0.45"/>
<path d="M803.9 708.4 L848.5 731.4" stroke="#ffffff" stroke-opacity="0.55" stroke-width="0.45"/>
<path d="M800.3 710.7 L844.6 733.5" stroke="#ffffff" stroke-opacity="0.55" stroke-width="0.45"/>
<path d="M796.7 713.0 L840.7 735.6" stroke="#ffffff" stroke-opacity="0.55" stroke-width="0.45"/>
<polygon points="936.6,697.2 953.0,705.9 953.0,712.5 936.6,703.8000000000001" fill="#e9b3a0" fill-opacity="0.75" stroke="#8a5a4c" stroke-width="0.35"/><polygon points="936.6,703.8000000000001 953.0,712.5 950.6,714.7 934.2,706.0000000000001" fill="#f1c9ba" fill-opacity="0.6"/>
<polygon points="985.4,723.4 1001.8,732.1 1001.8,738.7 985.4,730.0" fill="#e9b3a0" fill-opacity="0.75" stroke="#8a5a4c" stroke-width="0.35"/><polygon points="985.4,730.0 1001.8,738.7 999.4,740.9 983.0,732.2" fill="#f1c9ba" fill-opacity="0.6"/>
<polygon points="893.6,726.4 910.2,735.2 910.2,744.4 893.6,735.6" fill="#e9b3a0" fill-opacity="0.75" stroke="#8a5a4c" stroke-width="0.35"/><polygon points="893.6,735.6 910.2,744.4 907.8000000000001,746.6 891.2,737.8000000000001" fill="#f1c9ba" fill-opacity="0.6"/>
<polygon points="942.4,753.4 959.8,762.6 959.8,772.2 942.4,763.0" fill="#e9b3a0" fill-opacity="0.75" stroke="#8a5a4c" stroke-width="0.35"/><polygon points="942.4,763.0 959.8,772.2 957.4,774.4 940.0,765.2" fill="#f1c9ba" fill-opacity="0.6"/>
<g transform="translate(927.2 683.8) scale(1.0)">
<path d="M0 -7 L-0.6 -3.4 L-3.4 0 M-0.6 -3.4 L2.2 -2 L3.4 0.6" stroke="#f4d9cf" stroke-width="0.9" fill="none" stroke-linecap="round" stroke-linejoin="round"/>
<path d="M-0.4 -7.6 L0.6 -4" stroke="#f3f3f3" stroke-width="1.8" stroke-linecap="round"/>
<path d="M-1 -4 L1 -3.4" stroke="#e0566a" stroke-width="1.4" stroke-linecap="round"/>
<path d="M0 -7 L-2.4 -5.6 M0.4 -7 L2.6 -6.4" stroke="#f4d9cf" stroke-width="0.7" stroke-linecap="round"/>
<circle cx="0.2" cy="-9" r="1" fill="#f4d9cf"/><path d="M-0.8 -9.6 Q0.2 -10.6 1.2 -9.4" stroke="#2a2a33" stroke-width="0.7" fill="none"/>
<path d="M-3.8 0 L-2.8 0.4 M3 0.8 L4.2 1" stroke="#333" stroke-width="0.8" stroke-linecap="round"/>
</g>
<g transform="translate(937.6 685.4) scale(1.0)">
<path d="M0 -7 L-0.6 -3.4 L-3.4 0 M-0.6 -3.4 L2.2 -2 L3.4 0.6" stroke="#f4d9cf" stroke-width="0.9" fill="none" stroke-linecap="round" stroke-linejoin="round"/>
<path d="M-0.4 -7.6 L0.6 -4" stroke="#f7f3ea" stroke-width="1.8" stroke-linecap="round"/>
<path d="M-1 -4 L1 -3.4" stroke="#e8c15a" stroke-width="1.4" stroke-linecap="round"/>
<path d="M0 -7 L-2.4 -5.6 M0.4 -7 L2.6 -6.4" stroke="#f4d9cf" stroke-width="0.7" stroke-linecap="round"/>
<circle cx="0.2" cy="-9" r="1" fill="#f4d9cf"/><path d="M-0.8 -9.6 Q0.2 -10.6 1.2 -9.4" stroke="#2a2a33" stroke-width="0.7" fill="none"/>
<path d="M-3.8 0 L-2.8 0.4 M3 0.8 L4.2 1" stroke="#333" stroke-width="0.8" stroke-linecap="round"/>
</g>
<g transform="translate(941.6 778.2) scale(1.05)">
<path d="M0 -7 L-0.6 -3.4 L-3.4 0 M-0.6 -3.4 L2.2 -2 L3.4 0.6" stroke="#f4d9cf" stroke-width="0.9" fill="none" stroke-linecap="round" stroke-linejoin="round"/>
<path d="M-0.4 -7.6 L0.6 -4" stroke="#f26a4a" stroke-width="1.8" stroke-linecap="round"/>
<path d="M-1 -4 L1 -3.4" stroke="#5aa83a" stroke-width="1.4" stroke-linecap="round"/>
<path d="M0 -7 L-2.4 -5.6 M0.4 -7 L2.6 -6.4" stroke="#f4d9cf" stroke-width="0.7" stroke-linecap="round"/>
<circle cx="0.2" cy="-9" r="1" fill="#f4d9cf"/><path d="M-0.8 -9.6 Q0.2 -10.6 1.2 -9.4" stroke="#2a2a33" stroke-width="0.7" fill="none"/>
<path d="M-3.8 0 L-2.8 0.4 M3 0.8 L4.2 1" stroke="#333" stroke-width="0.8" stroke-linecap="round"/>
</g>
<g transform="translate(949 778.6) scale(1.05)">
<path d="M0 -7 L-0.6 -3.4 L-3.4 0 M-0.6 -3.4 L2.2 -2 L3.4 0.6" stroke="#f4d9cf" stroke-width="0.9" fill="none" stroke-linecap="round" stroke-linejoin="round"/>
<path d="M-0.4 -7.6 L0.6 -4" stroke="#f0a84a" stroke-width="1.8" stroke-linecap="round"/>
<path d="M-1 -4 L1 -3.4" stroke="#f0c040" stroke-width="1.4" stroke-linecap="round"/>
<path d="M0 -7 L-2.4 -5.6 M0.4 -7 L2.6 -6.4" stroke="#f4d9cf" stroke-width="0.7" stroke-linecap="round"/>
<circle cx="0.2" cy="-9" r="1" fill="#f4d9cf"/><path d="M-0.8 -9.6 Q0.2 -10.6 1.2 -9.4" stroke="#2a2a33" stroke-width="0.7" fill="none"/>
<path d="M-3.8 0 L-2.8 0.4 M3 0.8 L4.2 1" stroke="#333" stroke-width="0.8" stroke-linecap="round"/>
</g>
<path d="M937.6 669.6 V646.6 M937.8 648.6 L915.2 658.2" stroke="#2b2e33" stroke-width="0.7" fill="none"/>
<path d="M919.6 655.6 l3 -1.2 l1 1.6 l-2 1.4 Z M926.4 652.6 l3.2 -1.4 l1 1.6 l-2.2 1.6 Z" fill="#15171a"/>
<rect x="935.4" y="660.6" width="3" height="2" fill="#7db3e6"/>
<g>
<path d="M841.0 753.6 V725.4" stroke="#2b2e33" stroke-width="0.9"/>
<path d="M841.0 728.4 L852.0 720.0" stroke="#33363b" stroke-width="0.6"/>
<path d="M842.2 722.1999999999999 l6.6 -3.2 l1.2 2.4 l-6.6 3.4 Z" fill="#f4f5f7" stroke="#cfd3d8" stroke-width="0.3"/>
<rect x="839.4" y="738.9" width="3.2" height="3.6" fill="#dfe3e8" opacity="0.9"/>
</g>
<g>
<path d="M889.8 781.6 V752.8" stroke="#2b2e33" stroke-width="0.9"/>
<path d="M889.8 755.8 L900.8 747.4" stroke="#33363b" stroke-width="0.6"/>
<path d="M891.0 749.5999999999999 l6.6 -3.2 l1.2 2.4 l-6.6 3.4 Z" fill="#f4f5f7" stroke="#cfd3d8" stroke-width="0.3"/>
<rect x="888.1999999999999" y="766.3" width="3.2" height="3.6" fill="#dfe3e8" opacity="0.9"/>
</g>
<g>
<path d="M952.6 810 V780.4" stroke="#2b2e33" stroke-width="0.9"/>
<path d="M952.6 783.4 L963.6 775.0" stroke="#33363b" stroke-width="0.6"/>
<path d="M953.8000000000001 777.1999999999999 l6.6 -3.2 l1.2 2.4 l-6.6 3.4 Z" fill="#f4f5f7" stroke="#cfd3d8" stroke-width="0.3"/>
<rect x="951.0" y="793.9" width="3.2" height="3.6" fill="#dfe3e8" opacity="0.9"/>
</g>
<path d="M961 768.4 l6.8 -3.4 l1.2 2.4 l-6.8 3.6 Z" fill="#f4f5f7" stroke="#cfd3d8" stroke-width="0.3"/>
<text x="948.6" y="663" font-size="4.8" font-weight="400" fill="#4aa4dd" text-anchor="start">1000米起点</text>
<circle cx="961.4" cy="666.4" r="1.3" fill="#4aa4dd"/><path d="M960.4 667 L943 677" stroke="#4aa4dd" stroke-width="0.4" stroke-dasharray="1 0.8" fill="none"/>
<text x="793.6" y="751.8" font-size="4.8" font-weight="400" fill="#4aa4dd" text-anchor="start">100米起点</text>
<circle cx="819.6" cy="750" r="1.3" fill="#4aa4dd"/><path d="M821 749.4 L858 731" stroke="#4aa4dd" stroke-width="0.4" stroke-dasharray="1 0.8" fill="none"/>
<text x="842.2" y="776.8" font-size="4.8" font-weight="400" fill="#4aa4dd" text-anchor="start">50米起点</text>
<path d="M868.6 774 L907 754" stroke="#4aa4dd" stroke-width="0.4" stroke-dasharray="1 0.8" fill="none"/>
<text x="899" y="797.8" font-size="4.8" font-weight="400" fill="#4aa4dd" text-anchor="start">800米起点</text>
<text x="853.4" y="806.2" font-size="4.8" font-weight="400" fill="#4aa4dd" text-anchor="start">50米/100米/800米/1000米终点</text>
<circle cx="925.2" cy="803.6" r="1.2" fill="none" stroke="#4aa4dd" stroke-width="0.5"/><path d="M926.4 802.8 L962 783" stroke="#4aa4dd" stroke-width="0.4" stroke-dasharray="1 0.8" fill="none"/>
<g transform="translate(1014.8 636.4)">
<path d="M0 0 V-19.6" stroke="#e6e8ec" stroke-width="2.5" stroke-linecap="round"/>
<path d="M-5.4 -14.8 L0.4 -19.8" stroke="#dcdee3" stroke-width="3.2" stroke-linecap="round"/>
<path d="M-2 -0.6 H2 V1 H-2 Z" fill="#e2e4e8"/>
<path d="M-2.6 -11.6 L2.8 -9.6 V-7.2 L-2.6 -9.2 Z" fill="#f0f1f4"/>
<path d="M-2.2 -10.8 L0.4 -9.9 V-8.8 L-2.2 -9.7 Z" fill="#3f88d8"/><path d="M0.6 -9.8 L2.2 -9.2 V-8.2 L0.6 -8.8 Z" fill="#f0a53a"/>
</g>
<g transform="translate(1046.8 654.6)">
<path d="M0 0 V-19.6" stroke="#e6e8ec" stroke-width="2.5" stroke-linecap="round"/>
<path d="M-5.4 -14.8 L0.4 -19.8" stroke="#dcdee3" stroke-width="3.2" stroke-linecap="round"/>
<path d="M-2 -0.6 H2 V1 H-2 Z" fill="#e2e4e8"/>
<path d="M-2.6 -11.6 L2.8 -9.6 V-7.2 L-2.6 -9.2 Z" fill="#f0f1f4"/>
<path d="M-2.2 -10.8 L0.4 -9.9 V-8.8 L-2.2 -9.7 Z" fill="#3f88d8"/><path d="M0.6 -9.8 L2.2 -9.2 V-8.2 L0.6 -8.8 Z" fill="#f0a53a"/>
</g>
<g transform="translate(1079.2 671.4)">
<path d="M0 0 V-19.6" stroke="#e6e8ec" stroke-width="2.5" stroke-linecap="round"/>
<path d="M-5.4 -14.8 L0.4 -19.8" stroke="#dcdee3" stroke-width="3.2" stroke-linecap="round"/>
<path d="M-2 -0.6 H2 V1 H-2 Z" fill="#e2e4e8"/>
<path d="M-2.6 -11.6 L2.8 -9.6 V-7.2 L-2.6 -9.2 Z" fill="#f0f1f4"/>
<path d="M-2.2 -10.8 L0.4 -9.9 V-8.8 L-2.2 -9.7 Z" fill="#3f88d8"/><path d="M0.6 -9.8 L2.2 -9.2 V-8.2 L0.6 -8.8 Z" fill="#f0a53a"/>
</g>
<g transform="translate(1112.6 690)">
<path d="M0 0 V-19.6" stroke="#e6e8ec" stroke-width="2.5" stroke-linecap="round"/>
<path d="M-5.4 -14.8 L0.4 -19.8" stroke="#dcdee3" stroke-width="3.2" stroke-linecap="round"/>
<path d="M-2 -0.6 H2 V1 H-2 Z" fill="#e2e4e8"/>
<path d="M-2.6 -11.6 L2.8 -9.6 V-7.2 L-2.6 -9.2 Z" fill="#f0f1f4"/>
<path d="M-2.2 -10.8 L0.4 -9.9 V-8.8 L-2.2 -9.7 Z" fill="#3f88d8"/><path d="M0.6 -9.8 L2.2 -9.2 V-8.2 L0.6 -8.8 Z" fill="#f0a53a"/>
</g>
<polygon points="975,647.1 999.5,660.6 1023.4,646.8 1023.4,647.9 999.5,661.7 975,648.2" fill="#6cab68"/><polygon points="975,647.1 999.3,633.5 1023.4,646.8 999.5,660.6" fill="#92c586"/>
<polygon points="990,644.6 1000.6,640.6 1014,648.6 1003.6,652.8" fill="#b5d8a9" opacity="0.9"/>
<polygon points="1006.6,664.6 1031.6,678.4 1056.1,664.3 1056.1,665.4 1031.6,679.5 1006.6,665.7" fill="#6cab68"/><polygon points="1006.6,664.6 1031.6,651 1056.1,664.3 1031.6,678.4" fill="#92c586"/>
<polygon points="1017,661.6 1026,657.6 1040.4,668 1031.6,672" fill="#a9d29e" opacity="0.8"/>
<polygon points="1039.8,682.1 1064.6,695.8 1088.6,681.7 1088.6,682.8000000000001 1064.6,696.9 1039.8,683.2" fill="#6cab68"/><polygon points="1039.8,682.1 1064.6,668.6 1088.6,681.7 1064.6,695.8" fill="#92c586"/>
<polygon points="1052,680.4 1061.6,676.4 1076.4,684.6 1066.6,689" fill="#b4cf62" opacity="0.9"/>
<polygon points="1072.8,700.7 1097.9,714.4 1122.9,700.9 1122.9,702.0 1097.9,715.5 1072.8,701.8000000000001" fill="#6cab68"/><polygon points="1072.8,700.7 1098.2,687.1 1122.9,700.9 1097.9,714.4" fill="#92c586"/>
<ellipse cx="1089" cy="699.6" rx="2.6" ry="1.3" fill="#cfe8c4"/><ellipse cx="1101" cy="706.2" rx="2.6" ry="1.3" fill="#cfe8c4"/>
<g><path d="M984 624.4 L990.6 628" stroke="#f6ddd2" stroke-width="1" stroke-linecap="round"/><path d="M988 628.4 L991.6 633.4" stroke="#6ec3c8" stroke-width="3.2" stroke-linecap="round"/><path d="M991.4 634 L990.2 639.4" stroke="#f6ddd2" stroke-width="1.6" stroke-linecap="round"/><circle cx="993.4" cy="626.4" r="1.6" fill="#f6ddd2"/><path d="M992 625 Q994 623.4 995.6 625.4" stroke="#4fae9a" stroke-width="1.2" fill="none"/><path d="M988.6 639.4 L991.4 641" stroke="#2f8f70" stroke-width="1.6" stroke-linecap="round"/></g>
<g><path d="M1021.6 641.6 V664.6 M1035 646.8 V669.8 M1021.6 642 L1035 647.2" stroke="#6f8fd0" stroke-width="0.8" fill="none"/><path d="M1024.6 645.6 L1026.4 649.6 M1031.6 647.6 L1029 650" stroke="#f6ddd2" stroke-width="0.8" stroke-linecap="round"/><circle cx="1027.6" cy="646.8" r="1.5" fill="#f6ddd2"/><path d="M1026 646 Q1027.6 644.4 1029.4 646" stroke="#4fae9a" stroke-width="1.1" fill="none"/><path d="M1027.4 649.6 L1028 656" stroke="#6ec3d6" stroke-width="3.2" stroke-linecap="round"/><path d="M1027.6 656.4 L1026.6 661.6 M1028.8 656.4 L1029.6 662.6" stroke="#59b0c4" stroke-width="1.4" stroke-linecap="round"/><path d="M1024 662.2 L1026.8 663 M1027.8 664.4 L1030.4 665" stroke="#2f6fa8" stroke-width="1.3" stroke-linecap="round"/></g>
<g><path d="M1058.6 676.4 L1066 680.4" stroke="#74c3b4" stroke-width="3" stroke-linecap="round"/><path d="M1066 680.6 L1070 678.4 L1071.4 684.4" stroke="#f6ddd2" stroke-width="1.3" fill="none" stroke-linecap="round" stroke-linejoin="round"/><circle cx="1062.8" cy="674.2" r="1.5" fill="#f6ddd2"/><path d="M1057.6 672.4 Q1060 670.4 1063.4 672.6" stroke="#4aa8c8" stroke-width="1.6" fill="none"/><path d="M1069.6 685.2 L1071.8 686" stroke="#2f6fa8" stroke-width="1.3" stroke-linecap="round"/></g>
<g transform="translate(1089 699.6) scale(0.78)"><ellipse cx="-5.6" cy="-10" rx="3.4" ry="5.6" transform="rotate(18 -5.6 -10)" fill="none" stroke="#c9d6e6" stroke-width="0.5"/><path d="M0.3 -13 L0.8 -1.2" stroke="#3ea0c6" stroke-width="2.1" stroke-linecap="round"/><path d="M0.6 -13 L4 -9.4 L2.9 -4.6" stroke="#3ea0c6" stroke-width="2" fill="none" stroke-linecap="round" stroke-linejoin="round"/><path d="M0 -1.4 L1.6 0.8" stroke="#2f63b6" stroke-width="1.5" stroke-linecap="round"/><path d="M-0.9 -19.6 L1.7 -19.6 L1.9 -13.2 L-0.9 -13.2 Z" fill="#5f93d8"/><circle cx="0.9" cy="-21.9" r="1.7" fill="#f9e1da"/><ellipse cx="-4.2" cy="-21" rx="4.6" ry="2.6" transform="rotate(-32 -4.2 -21)" fill="#4bb0d2"/></g>
<g transform="translate(1101 706) scale(0.78)"><ellipse cx="-5.6" cy="-10" rx="3.4" ry="5.6" transform="rotate(18 -5.6 -10)" fill="none" stroke="#c9d6e6" stroke-width="0.5"/><path d="M0.3 -13 L0.8 -1.2" stroke="#3ea0c6" stroke-width="2.1" stroke-linecap="round"/><path d="M0.6 -13 L4 -9.4 L2.9 -4.6" stroke="#3ea0c6" stroke-width="2" fill="none" stroke-linecap="round" stroke-linejoin="round"/><path d="M0 -1.4 L1.6 0.8" stroke="#2f63b6" stroke-width="1.5" stroke-linecap="round"/><path d="M-0.9 -19.6 L1.7 -19.6 L1.9 -13.2 L-0.9 -13.2 Z" fill="#5f93d8"/><circle cx="0.9" cy="-21.9" r="1.7" fill="#f9e1da"/><ellipse cx="-4.2" cy="-21" rx="4.6" ry="2.6" transform="rotate(-32 -4.2 -21)" fill="#4bb0d2"/></g>
<text font-size="4.6" font-weight="400" fill="#5cc59a" text-anchor="middle"><tspan x="987.9" y="667.4">立</tspan><tspan x="987.9" y="672.7">定</tspan><tspan x="987.9" y="678.1">跳</tspan><tspan x="987.9" y="683.4">远</tspan></text>
<text font-size="4.6" font-weight="400" fill="#5cc59a" text-anchor="middle"><tspan x="1020.2" y="684.4">引</tspan><tspan x="1020.2" y="689.7">体</tspan><tspan x="1020.2" y="695.1">向</tspan><tspan x="1020.2" y="700.4">上</tspan></text>
<text font-size="4.6" font-weight="400" fill="#5cc59a" text-anchor="middle"><tspan x="1055.7" y="703.4">仰</tspan><tspan x="1055.7" y="708.7">卧</tspan><tspan x="1055.7" y="714.1">起</tspan><tspan x="1055.7" y="719.4">坐</tspan></text>
<text font-size="4.6" font-weight="400" fill="#5cc59a" text-anchor="middle"><tspan x="1088.6" y="720.4">跳</tspan><tspan x="1088.6" y="725.7">绳</tspan></text>
</g>
<defs><linearGradient id="ksc" x1="0" y1="0" x2="0.25" y2="1"><stop offset="0" stop-color="#45aede"/><stop offset="0.5" stop-color="#36a4e4"/><stop offset="1" stop-color="#2f9fe6"/></linearGradient><linearGradient id="ksc2" x1="0" y1="0" x2="1" y2="0.6"><stop offset="0" stop-color="#49aede"/><stop offset="0.55" stop-color="#4fbcbc"/><stop offset="1" stop-color="#5cc9a4"/></linearGradient><linearGradient id="bsh" x1="0" y1="0" x2="0" y2="1"><stop offset="0" stop-color="#a9d8e6"/><stop offset="1" stop-color="#5fb6d6"/></linearGradient><linearGradient id="bst" x1="0" y1="0" x2="1" y2="0"><stop offset="0" stop-color="#7fc7a0"/><stop offset="1" stop-color="#4fa67c"/></linearGradient><linearGradient id="gtp" x1="0" y1="0" x2="0" y2="1"><stop offset="0" stop-color="#9db9ec"/><stop offset="1" stop-color="#6f9be0"/></linearGradient><linearGradient id="gsh" x1="0" y1="0" x2="0" y2="1"><stop offset="0" stop-color="#5cb6cf"/><stop offset="1" stop-color="#3f96d0"/></linearGradient></defs>
<g id="kiosks">
<ellipse cx="1415.4" cy="747.4" rx="163.3" ry="70" fill="#daf5ee"/>
<g transform="translate(1399.1 608.2) scale(1.0)">
<polygon points="-5.4,95.6 12,104.4 30,90 12.6,81.2" fill="#1d1f21"/>
<polygon points="-5.4,95.6 12,104.4 12,105.6 -5.4,96.8" fill="#0c0d0e"/>
<polygon points="12,104.4 30,90 30,91.2 12,105.6" fill="#2a2c2f"/>
<polygon points="0,0 2.6,1.3 4.2,96 0.8,94.4" fill="#22262a"/>
<polygon points="1.1,2 1.8,2.4 3,94.6 2.3,94.2" fill="#7a8088" opacity="0.55"/>
<polygon points="2.6,1.3 21.4,10.8 23.4,87.4 4.2,96" fill="#0c1411"/>
<polygon points="2.6,1.3 21.4,10.8 21.4,11.6 2.6,2.1" fill="#22262a"/>
<polygon points="3.2,2.6 20.6,11.4 21,52.6 4.6,54.6" fill="url(#ksc)"/>
<polygon points="3.2,2.6 20.6,11.4 20.8,30 3.9,25" fill="url(#ksc2)"/>
<polygon points="3.2,2.6 4,3 5.2,54.5 4.6,54.6" fill="#e6f3fb" opacity="0.85"/>
<path d="M5 30.4 L20.8 33 M5 38.6 L20.8 40.4 M5 46.6 L20.9 47.4 M12.6 28.6 L12.9 53.6" stroke="#cfeafa" stroke-width="0.4" fill="none" opacity="0.9"/>
<path d="M5.4 7.2 l6.6 3 M5.6 10.2 l4 1.7 M6 18.6 l5.4 1.5 M14 22.4 l3 1 M6.2 32.6 l3.4 0.6 M14.2 34 l3 0.6 M6.2 40.6 l3.4 0.4 M14.2 42 l3 0.4 M6.2 48.6 l3.4 0.2 M14.2 49.4 l3 0.2" stroke="#ffffff" stroke-width="1" opacity="0.92" fill="none"/>
<path d="M6.4 21.6 C9 20.6 11 23.4 13 24 C14.6 24.6 15.6 26 16.4 27" stroke="#d9f3ee" stroke-width="0.35" fill="none"/>
<circle cx="17.9" cy="27.2" r="0.95" fill="#b8433f"/>
<polygon points="4.6,54.6 21,52.6 21,53.7 4.6,55.8" fill="#e8ecef" opacity="0.9"/>
<polygon points="4.8,57 19,55.6 19,62 5,64" fill="#1f2228"/>
</g>
<g><circle cx="1450.5" cy="696.4" r="5.4" fill="#ffffff" stroke="#2a5caa" stroke-width="0.7"/><path d="M1450.5 693.8 l2.5 1.8 l-1 2.9 h-3 l-1 -2.9 Z" fill="#2256a8"/><path d="M1450.5 691 v2.8 M1453 695.6 l2.6 -0.9 M1452 698.5 l1.6 2.3 M1449 698.5 l-1.6 2.3 M1448 695.6 l-2.6 -0.9" stroke="#2256a8" stroke-width="0.9"/><path d="M1446 692.6 l1.4 -1 M1455 692.6 l-1.4 -1 M1445.4 698.6 l0.8 1.6 M1455.6 698.6 l-0.8 1.6 M1449.6 701.6 h1.8" stroke="#2256a8" stroke-width="1.3"/></g>
<g id="boy">
<path d="M1485.6 661.6 C1489.6 665 1491.8 668.4 1491.6 670.6 C1490.4 675.6 1487.6 680.6 1485.8 685" stroke="#fde9e1" stroke-width="3.6" fill="none" stroke-linecap="round" stroke-linejoin="round"/>
<path d="M1478.6 686 C1478.8 694 1479.4 703 1478.9 711.4" stroke="#fde9e1" stroke-width="4.6" fill="none" stroke-linecap="round"/>
<path d="M1474 680.6 C1469 679.4 1464.4 679.2 1461.8 680.4 C1461.4 686 1462.4 692 1463.4 697" stroke="#fde9e1" stroke-width="4.8" fill="none" stroke-linecap="round" stroke-linejoin="round"/>
<path d="M1455.1 703 C1458 700.4 1462 699.4 1464.2 696.6 C1466 696 1468 698.4 1468.9 700 C1466.4 702.6 1462.6 704 1459.6 704.4 C1457.6 704.6 1455.6 704 1455.1 703 Z" fill="#2f8b7a"/>
<path d="M1471.7 716.8 C1474.6 714.6 1478.6 713.4 1480.6 710.8 C1482.6 710.6 1483.6 713 1484.1 714.8 C1481.4 717.2 1477.6 718.4 1474.6 718.7 C1473 718.8 1472 718 1471.7 716.8 Z" fill="#2f8b7a"/>
<path d="M1469.4 676.8 L1473.8 676.8 L1473.4 684.6 L1468.8 684.2 Z" fill="#93d1b2"/>
<path d="M1473.5 676.6 L1483.8 677.2 L1482.8 688.6 C1479.4 689.2 1475.6 688.6 1473.1 687.8 Z" fill="url(#bst)"/>
<path d="M1477.8 655.4 C1480.6 656 1483.6 658 1485.2 660.4 C1485 666 1484.4 671.6 1483.8 677 C1480.4 677.4 1476.6 676.8 1474 675.8 C1474.4 671.4 1473.6 666.4 1472.6 662.4 C1474 659.6 1476 657 1477.8 655.4 Z" fill="url(#bsh)"/>
<path d="M1474.6 665.4 C1473.6 667.6 1472.4 669.4 1470.4 670 C1465.4 667.4 1460.6 664 1456 660.8" stroke="#fde9e1" stroke-width="3.8" fill="none" stroke-linecap="round" stroke-linejoin="round"/>
<circle cx="1455.8" cy="660.6" r="2.5" fill="#fde9e1"/>
<path d="M1472.8 646 C1472.2 648.6 1472.6 651.4 1474 652.6 L1475.6 653 L1476.6 656 L1479.6 655.4 L1479.4 650 C1477.6 648 1475.2 646.4 1472.8 646 Z" fill="#fde9e1"/>
<path d="M1471.6 645.8 C1472.4 643 1476.4 642.2 1479.6 643.2 C1482.4 644.4 1482.4 648.4 1481.6 650.4 C1481 652 1480 652.8 1479.2 652 C1479 650.4 1478.4 649.4 1477.6 649.6 C1476.4 648.6 1474.6 646.8 1471.6 645.8 Z" fill="#5db4a0"/>
</g>
<g id="girl">
<path d="M1434.9 766 C1434.6 774 1433 783 1431.9 791.6" stroke="#fde9e1" stroke-width="5" fill="none" stroke-linecap="round"/>
<path d="M1437.6 766.4 C1437.2 774 1435.6 783 1434 791" stroke="#fbe1da" stroke-width="3" fill="none" stroke-linecap="round"/>
<path d="M1422.7 799 C1425.6 796.6 1428.6 794 1430.4 791.4 C1433 791.6 1436.4 793 1438 794.8 C1435.6 798 1432 801 1428.6 802.2 C1426 802.4 1423.4 801 1422.7 799 Z" fill="#3c74c6"/>
<path d="M1428.4 797.6 C1430.4 796.4 1432 794.8 1433 793.4" stroke="#2f5fae" stroke-width="0.7" fill="none"/>
<path d="M1431.2 756.2 C1434 755.2 1438 754.8 1440.7 755.2 C1442.8 756.6 1443.6 758.4 1443.3 759.9 C1442.6 763 1441.2 766 1439.6 767.8 L1430.1 767.8 C1430.8 764 1431.2 760 1431.2 756.2 Z" fill="url(#gsh)"/>
<path d="M1429.6 753.6 L1439 752.6 L1439.6 755.4 L1430.4 756.4 Z" fill="#fde9e1"/>
<path d="M1426.4 743 C1429 741.4 1432.4 739.6 1434.8 738.3 L1438 739.8 C1438.6 744 1439 749 1439.1 753 C1436 754 1432.6 754.4 1429.6 754.1 C1428.8 750.4 1427.6 746.6 1426.4 743 Z" fill="url(#gtp)"/>
<path d="M1430.6 741.6 C1426.4 734.4 1421.4 726.6 1416.6 719.6" stroke="#fde9e1" stroke-width="2.8" fill="none" stroke-linecap="round"/>
<path d="M1431.6 737 C1429.6 731 1427 725 1424.9 719.4" stroke="#fbdcd6" stroke-width="2.5" fill="none" stroke-linecap="round"/>
<ellipse cx="1416.2" cy="718.6" rx="1.7" ry="2.5" fill="#fde9e1"/><ellipse cx="1424.6" cy="718.4" rx="1.6" ry="2.4" fill="#fbdcd6"/>
<path d="M1429.4 740.6 C1430.6 737.6 1432 735 1433 733.6 L1436.2 738.4 L1433.6 743.4 C1432 743 1430.4 742 1429.4 740.6 Z" fill="#fde9e1"/>
<path d="M1433.4 729.6 L1431.8 732.6 L1432.6 734.6 L1435 735.4 Z" fill="#fde9e1"/>
<path d="M1433.6 728.6 C1435.6 726.6 1439 726.8 1440.6 728.8 C1441.8 730.6 1441.6 733 1440.8 734.4 C1439 736.4 1436.4 736.8 1434.4 735.8 C1433.4 734.6 1433.4 733 1434 731.6 C1433.6 730.6 1433.4 729.6 1433.6 728.6 Z" fill="#56b0c8"/>
<path d="M1440.4 733.6 C1443.4 734.6 1444.6 738 1445 741 C1446 744.6 1450.6 744.6 1453.6 747.4 C1455 748.6 1455 750.4 1454.2 750.6 C1453 749 1451.6 748.6 1450.6 749 C1451 750.6 1450.4 752.4 1448.8 752.8 C1448 750.4 1446 749 1444.4 747.4 C1442 744.6 1441 741 1440.8 738 C1440.6 736.4 1440.2 735 1440.4 733.6 Z" fill="#4fa6cc"/>
</g>
<g transform="translate(1354.7 691.6) scale(1.07)">
<polygon points="-5.4,95.6 12,104.4 30,90 12.6,81.2" fill="#1d1f21"/>
<polygon points="-5.4,95.6 12,104.4 12,105.6 -5.4,96.8" fill="#0c0d0e"/>
<polygon points="12,104.4 30,90 30,91.2 12,105.6" fill="#2a2c2f"/>
<polygon points="0,0 2.6,1.3 4.2,96 0.8,94.4" fill="#22262a"/>
<polygon points="1.1,2 1.8,2.4 3,94.6 2.3,94.2" fill="#7a8088" opacity="0.55"/>
<polygon points="2.6,1.3 21.4,10.8 23.4,87.4 4.2,96" fill="#0c1411"/>
<polygon points="2.6,1.3 21.4,10.8 21.4,11.6 2.6,2.1" fill="#22262a"/>
<polygon points="3.2,2.6 20.6,11.4 21,52.6 4.6,54.6" fill="url(#ksc)"/>
<polygon points="3.2,2.6 20.6,11.4 20.8,30 3.9,25" fill="url(#ksc2)"/>
<polygon points="3.2,2.6 4,3 5.2,54.5 4.6,54.6" fill="#e6f3fb" opacity="0.85"/>
<path d="M5 30.4 L20.8 33 M5 38.6 L20.8 40.4 M5 46.6 L20.9 47.4 M12.6 28.6 L12.9 53.6" stroke="#cfeafa" stroke-width="0.4" fill="none" opacity="0.9"/>
<path d="M5.4 7.2 l6.6 3 M5.6 10.2 l4 1.7 M6 18.6 l5.4 1.5 M14 22.4 l3 1 M6.2 32.6 l3.4 0.6 M14.2 34 l3 0.6 M6.2 40.6 l3.4 0.4 M14.2 42 l3 0.4 M6.2 48.6 l3.4 0.2 M14.2 49.4 l3 0.2" stroke="#ffffff" stroke-width="1" opacity="0.92" fill="none"/>
<path d="M6.4 21.6 C9 20.6 11 23.4 13 24 C14.6 24.6 15.6 26 16.4 27" stroke="#d9f3ee" stroke-width="0.35" fill="none"/>
<circle cx="17.9" cy="27.2" r="0.95" fill="#b8433f"/>
<polygon points="4.6,54.6 21,52.6 21,53.7 4.6,55.8" fill="#e8ecef" opacity="0.9"/>
<polygon points="4.8,57 19,55.6 19,62 5,64" fill="#1f2228"/>
</g>
</g>
<circle cx="530.1" cy="861" r="34.25" fill="#3ab4a0"/>
<text x="529.8" y="928.5" font-size="20" font-weight="700" fill="#000" text-anchor="middle" >跳绳</text>
<circle cx="628.1" cy="861" r="34.25" fill="#3ab4a0"/>
<text x="636.2" y="928.5" font-size="20" font-weight="700" fill="#000" text-anchor="middle" >仰卧起坐</text>
<circle cx="757" cy="861" r="34.25" fill="#3ab4a0"/>
<text x="754" y="928.5" font-size="20" font-weight="700" fill="#000" text-anchor="middle" >坐位体前屈</text>
<circle cx="886.1" cy="861" r="34.25" fill="#3ab4a0"/>
<text x="886" y="928.5" font-size="20" font-weight="700" fill="#000" text-anchor="middle" >立定跳远</text>
<circle cx="1039.1" cy="861" r="34.25" fill="#3ab4a0"/>
<text font-weight="700" fill="#000"><tspan x="949.2" y="928.4" font-size="21" textLength="95.6" lengthAdjust="spacingAndGlyphs">800/1000</tspan><tspan x="1045.2" y="928.5" font-size="20">米跑</tspan></text>
<circle cx="1174.1" cy="861" r="34.25" fill="#3ab4a0"/>
<text font-weight="700" fill="#000"><tspan x="1119.8" y="928.4" font-size="21" textLength="70.2" lengthAdjust="spacingAndGlyphs">50/100</tspan><tspan x="1190.4" y="928.5" font-size="20">米跑</tspan></text>
<circle cx="1323.1" cy="861" r="34.25" fill="#3ab4a0"/>
<text x="1327" y="928.5" font-size="20" font-weight="700" fill="#000" text-anchor="middle" >引体向上</text>
<g id="ic-rope">
<circle cx="530.5" cy="850.8" r="4.95" fill="#fff"/>
<path d="M517.85 862.7 V851.6 A12.83 11.3 0 0 1 543.5 851.6 V862.7" fill="none" stroke="#fff" stroke-linecap="round" stroke-linejoin="round" stroke-width="2.2" stroke-linecap="butt"/>
<path d="M525.8 856.7 H535.4 C536.6 858.4 537.6 859.8 538.4 860.8 C539.6 862.2 540.8 863.4 541.7 864.1 L543.6 865.4 C544.6 866.2 544.4 867.6 543.4 868 C542.6 868.3 541.8 868.2 541.2 867.9 C540 867.3 538.8 866.6 537.9 865.7 L536 863.6 V880.6 C536 881.6 535.6 882 535.1 882.3 C534.4 882.7 533.6 882.8 532.9 882.7 C532 882.5 531.4 882.2 531 881.6 L530.8 869 H529.9 V878.4 C529.9 879.2 529.5 879.6 529.1 879.8 C528.5 880.1 527.9 880.1 527.4 880 C526.6 879.8 525.9 879.5 525.5 878.9 L525.3 863.6 L523.1 866 C522.2 866.8 520.9 867.5 519.8 867.9 C519 868.2 518.2 868.1 517.6 867.6 C516.9 867 516.8 866.2 517.1 865.6 C517.4 865.2 517.8 865 518.1 864.9 L521.4 862.4 C522.4 861.4 523.4 859.8 524.2 858.6 Z" fill="#fff"/>
</g>
<g id="ic-situp">
<circle cx="613.5" cy="850.9" r="5.5" fill="#fff"/>
<rect x="607" y="874.3" width="43.3" height="2.8" fill="#fff"/>
<path d="M615.6 857 L635.3 848.3 C636.3 847.9 637.1 848.5 637.5 849.3 C638 850 638.1 850.4 638 850.9 C637.8 851.7 637.2 852.2 636.4 852.6 L624.9 858.3 L629 863.3 L635.3 857 C635.8 856.6 636.4 856.4 637 856.5 C638 856.6 638.7 857 639.2 857.5 L646.6 869.6 C647 870.2 647.2 870.7 647 871.2 C646.8 872 646.4 872.5 645.8 872.9 C645.1 873.3 644.3 873.3 643.6 873.2 C643 873 642.5 872.7 642.2 872.3 L636.4 865.2 L630.9 871.8 C630.3 872.5 629.6 873 628.7 873.2 C627.8 873.3 626.8 873.3 626 873 C625.1 872.7 624.4 872.3 623.8 871.8 L615.6 864.1 C614.8 863.3 614.3 862.3 614.2 861.3 C614.1 860.4 614.2 859.4 614.5 858.6 C614.7 857.9 615.1 857.3 615.6 857 Z" fill="#fff"/>
</g>
<g id="ic-reach">
<circle cx="762.6" cy="851" r="5.9" fill="#fff"/>
<path d="M752.8 855 C749 855.6 746 858.5 743.5 861.4 C741 864.5 738.8 869.5 738 873.4 C737.4 877 738.6 879.2 741.5 879.8 C743 880.1 750 879.3 755.5 879.3 C761 879.3 768 880 771 880 C774.5 880 775.6 877.6 774.6 876 C773.8 874.9 773 874.6 772.5 874.5 L759.9 872.3 L749 871.9 L755.3 864.6 L767.6 871.5 C769.5 872.4 771 871.6 771.4 870 C771.9 868.5 771 867.5 770.4 867.1 L756.6 856.7 C755.5 855.6 754 854.9 752.8 855 Z" fill="#fff"/>
</g>
<g id="ic-jump">
<circle cx="868.2" cy="851.6" r="5.4" fill="#fff"/>
<path d="M896.6 839.4 C898.3 839.6 899.3 841.3 898.8 842.3 C898.5 843.2 898 843.6 897.7 843.8 L886.5 851.5 L896.6 855.9 C898.6 856.9 900.3 858.6 900.2 861 C900.2 862.8 899 864.2 897.7 864.9 L890 868.8 C888.5 869.7 887.4 870.5 887.8 871.2 L894.7 880.6 C895.6 881.8 895.4 883 894.6 883.5 C893.6 884.2 892.3 883.7 891.4 882.8 L881.8 873.4 C880.8 872.4 880.5 871.4 880.9 870.5 C881.2 869.6 881.6 868.9 881.8 868.5 L886.2 862.5 L885.1 861.4 L876.9 858.1 C875.4 857.4 874.8 856.3 874.9 855 C875 853.5 875.2 852.2 875.6 851.3 C876.2 850.2 877.2 849.7 878 849.3 L891.7 840.2 C893.5 839.2 895 839.2 896.6 839.4 Z" fill="#fff"/>
<path d="M881.3 878.1 L886.4 883.2" fill="none" stroke="#fff" stroke-linecap="round" stroke-linejoin="round" stroke-width="1.4"/>
</g>
<g transform="translate(1039.1 861)">
<circle cx="4.6" cy="-16.9" r="5.05" fill="#fff"/>
<path d="M-5.4 -10.6 C-3 -11.2 -1 -11.3 0.6 -11.2 C2.5 -11.1 4 -10.7 5 -10.1 C6.3 -9.3 7.3 -8.3 8.3 -7.3 L10.5 -5.1 L17.1 -6.5 C18.3 -6.7 19.2 -6.3 19.7 -5.4 C20.3 -4.5 20.4 -3.9 20.1 -3.3 C19.8 -2.3 19.4 -1.8 18.8 -1.6 L9.4 0.6 C8.8 0.7 8.2 0.7 7.8 0.3 L5.3 -2.1 L2.8 3.6 L8.3 5.8 C9.1 6.2 9.5 6.7 9.7 7.5 L12.8 20.7 C13 21.4 12.8 21.9 12.2 22.3 C11.4 22.9 10.4 23.1 9.4 23 C8.5 22.8 7.8 22.4 7.5 21.8 L4.5 11.3 L-0.7 10.2 L-4.3 16.8 C-4.9 17.9 -5.6 18.6 -6.5 18.9 C-7.4 19.1 -8.4 18.6 -9.2 18.2 L-18.3 13.8 C-19.1 13.3 -19.6 12.7 -19.7 11.9 C-19.8 11 -19.5 10.1 -18.8 9.4 C-18.2 8.7 -17.3 8.3 -16.4 8.6 L-9.5 11.9 L-8.1 9.1 L-4.3 -4.6 L-5.1 -4.9 L-10.3 3.1 C-10.9 3.9 -11.7 4.4 -12.5 4.5 C-13.5 4.5 -14.5 3.9 -15 3.1 C-15.5 2.4 -15.6 1.6 -15.3 0.9 L-9.8 -7.9 C-9.3 -8.7 -8.8 -9.3 -8.1 -9.8 C-7.4 -10.3 -6.4 -10.5 -5.4 -10.6 Z" fill="#fff"/>
</g>
<g transform="translate(1174.1 861)">
<circle cx="4.6" cy="-16.9" r="5.05" fill="#fff"/>
<path d="M-5.4 -10.6 C-3 -11.2 -1 -11.3 0.6 -11.2 C2.5 -11.1 4 -10.7 5 -10.1 C6.3 -9.3 7.3 -8.3 8.3 -7.3 L10.5 -5.1 L17.1 -6.5 C18.3 -6.7 19.2 -6.3 19.7 -5.4 C20.3 -4.5 20.4 -3.9 20.1 -3.3 C19.8 -2.3 19.4 -1.8 18.8 -1.6 L9.4 0.6 C8.8 0.7 8.2 0.7 7.8 0.3 L5.3 -2.1 L2.8 3.6 L8.3 5.8 C9.1 6.2 9.5 6.7 9.7 7.5 L12.8 20.7 C13 21.4 12.8 21.9 12.2 22.3 C11.4 22.9 10.4 23.1 9.4 23 C8.5 22.8 7.8 22.4 7.5 21.8 L4.5 11.3 L-0.7 10.2 L-4.3 16.8 C-4.9 17.9 -5.6 18.6 -6.5 18.9 C-7.4 19.1 -8.4 18.6 -9.2 18.2 L-18.3 13.8 C-19.1 13.3 -19.6 12.7 -19.7 11.9 C-19.8 11 -19.5 10.1 -18.8 9.4 C-18.2 8.7 -17.3 8.3 -16.4 8.6 L-9.5 11.9 L-8.1 9.1 L-4.3 -4.6 L-5.1 -4.9 L-10.3 3.1 C-10.9 3.9 -11.7 4.4 -12.5 4.5 C-13.5 4.5 -14.5 3.9 -15 3.1 C-15.5 2.4 -15.6 1.6 -15.3 0.9 L-9.8 -7.9 C-9.3 -8.7 -8.8 -9.3 -8.1 -9.8 C-7.4 -10.3 -6.4 -10.5 -5.4 -10.6 Z" fill="#fff"/>
</g>
<g id="ic-pull">
<rect x="1306.5" y="839.9" width="34" height="2.3" rx="0.8" fill="#fff"/>
<circle cx="1323.5" cy="847.2" r="4.3" fill="#fff"/>
<path d="M1314.8 841 V849.6 L1319.4 854.6 M1332.3 841 V849.6 L1327.7 854.6" fill="none" stroke="#fff" stroke-linecap="round" stroke-linejoin="round" stroke-width="3.8"/>
<path d="M1318 853.2 H1329 V864.8 L1333.4 880 A2.85 2.85 0 0 1 1327.9 881.5 L1323.55 869.8 L1319.2 881.5 A2.85 2.85 0 0 1 1313.7 880 L1318 864.8 Z" fill="#fff"/>
</g>
</svg>
</body></html>
